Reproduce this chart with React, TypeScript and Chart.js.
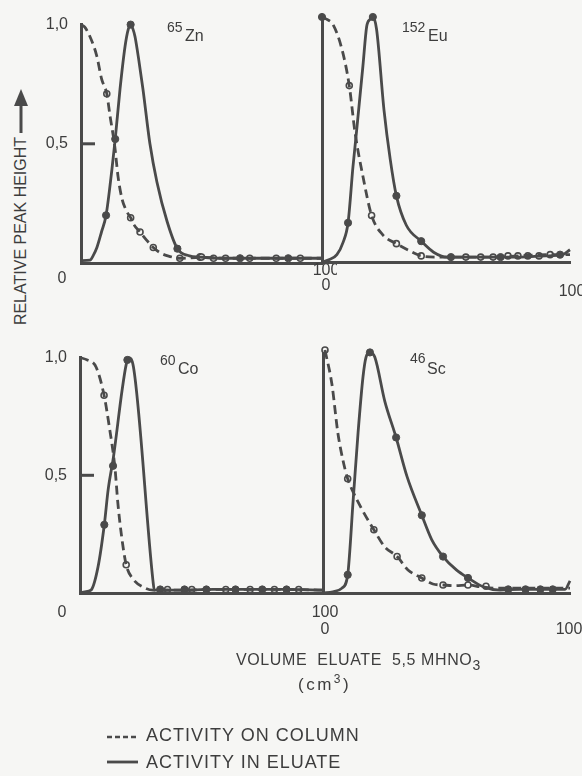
import React, { useEffect, useRef } from 'react';
import { Chart, registerables } from 'chart.js';

Chart.register(...registerables);

type Pt = [number, number];

// ---- 65Zn ----
const znColumn: Pt[] = [[0,1.0],[1.5,0.99],[3.7,0.95],[6.5,0.87],[8.6,0.77],[10.7,0.71],[12,0.62],[14,0.49],[15.4,0.36],[17,0.27],[18.8,0.22],[20.6,0.19],[22,0.16],[24.5,0.13],[27.3,0.095],[30,0.065],[33,0.042],[36,0.03],[41,0.02],[50,0.024],[60,0.02],[70,0.02],[81,0.02],[91,0.02],[100,0.02]];
const znColumnMarks: Pt[] = [[10.7,0.71],[20.6,0.19],[24.5,0.13],[30,0.065],[41,0.02],[50,0.025],[55,0.02],[60,0.02],[70,0.02],[81,0.02],[91,0.02]];
const znEluate: Pt[] = [[0,0.01],[3.7,0.012],[5,0.03],[6.6,0.065],[8.5,0.13],[10.4,0.2],[12.8,0.39],[14.2,0.52],[16.2,0.73],[18.3,0.91],[19.6,0.98],[20.6,1.0],[21.6,0.98],[22.4,0.95],[24,0.85],[25.7,0.73],[28.6,0.5],[31.5,0.34],[35.7,0.175],[40,0.06],[45,0.03],[49.4,0.025],[58,0.02],[66,0.02],[76,0.02],[86,0.02],[100,0.02]];
const znEluateMarks: Pt[] = [[10.4,0.2],[14.2,0.52],[20.6,1.0],[40,0.06],[49.4,0.025],[66,0.02],[86,0.02]];

// ---- 152Eu ----
const euColumn: Pt[] = [[0,1.0],[2,0.99],[4.4,0.97],[8,0.87],[11,0.72],[13.3,0.53],[16.5,0.35],[20,0.19],[24.6,0.11],[30,0.075],[35.5,0.045],[40,0.025],[46,0.02],[58,0.02],[69,0.02],[79,0.025],[92,0.03],[100,0.03]];
const euColumnMarks: Pt[] = [[11,0.72],[20,0.19],[30,0.075],[40,0.025],[58,0.02],[64,0.02],[69,0.02],[75,0.025],[79,0.025],[83,0.025],[87.5,0.025],[92,0.03]];
const euEluate: Pt[] = [[0,0],[3,0.01],[6,0.03],[8.5,0.08],[10.5,0.16],[12.5,0.39],[14,0.54],[16.5,0.8],[18,0.96],[19.3,0.99],[20.5,1.0],[22,0.95],[25,0.62],[27.5,0.42],[30,0.27],[34,0.15],[40,0.085],[45,0.04],[50.4,0.02],[60,0.02],[70,0.02],[80,0.02],[90,0.025],[97,0.03],[100,0.05]];
const euEluateMarks: Pt[] = [[0,1.0],[10.5,0.16],[20.5,1.0],[30,0.27],[40,0.085],[52,0.02],[72,0.02],[96,0.03]];

// ---- 60Co ----
const coColumn: Pt[] = [[0,1.0],[3,0.99],[6.6,0.96],[9.9,0.84],[12,0.71],[14.4,0.53],[15.6,0.38],[17,0.25],[19,0.12],[21.8,0.06],[26,0.025],[30,0.012],[40,0.012],[55,0.015],[70,0.015],[85,0.015],[100,0.012]];
const coColumnMarks: Pt[] = [[9.9,0.84],[19,0.12],[36,0.015],[46,0.015],[60,0.015],[70,0.015],[80,0.015],[90,0.015]];
const coEluate: Pt[] = [[0,0],[2,0.005],[4.5,0.012],[7.4,0.11],[10,0.29],[11.6,0.44],[13.8,0.58],[17.3,0.86],[19,0.97],[20,1.0],[22,0.96],[30,0.055],[30.6,0.012],[40,0.012],[55,0.015],[70,0.015],[85,0.015],[100,0.012]];
const coEluateMarks: Pt[] = [[10,0.29],[13.6,0.54],[19.5,0.99],[33,0.015],[43,0.015],[52,0.015],[64,0.015],[75,0.015],[85,0.015]];

// ---- 46Sc ----
const scColumn: Pt[] = [[0.8,1.0],[3.6,0.86],[6,0.66],[8,0.55],[10,0.47],[12,0.42],[16,0.34],[20.6,0.26],[25,0.19],[30,0.15],[34.4,0.095],[40,0.062],[44.5,0.037],[48.6,0.033],[53.4,0.03],[58.7,0.033],[64,0.025],[70,0.02],[80,0.02],[90,0.02],[100,0.02]];
const scColumnMarks: Pt[] = [[0.8,1.0],[10,0.47],[20.6,0.26],[30,0.15],[40,0.062],[48.6,0.033],[58.7,0.033],[66,0.028]];
const scEluate: Pt[] = [[0,0],[4,0.005],[7.7,0.02],[10,0.075],[12.2,0.38],[14.2,0.66],[16.2,0.89],[17.4,0.97],[19,0.99],[21,0.97],[25,0.79],[29.6,0.64],[34,0.48],[40,0.32],[44,0.22],[48.6,0.15],[54,0.095],[58.7,0.062],[65,0.025],[71.7,0.012],[80,0.015],[90,0.015],[98,0.015],[100,0.05]];
const scEluateMarks: Pt[] = [[10,0.075],[19,0.99],[29.6,0.64],[40,0.32],[48.6,0.15],[58.7,0.062],[75,0.015],[82,0.015],[88,0.015],[93,0.015]];

// ---- labels ----
const massNumbers = ['65', '152', '60', '46'];
const elements = ['Zn', 'Eu', 'Co', 'Sc'];
const yTickValues = [0.5, 1.0];
const yTickLabels = ['0,5', '1,0'];
const xTickValues = [0, 100];
const xTickLabels = ['0', '100'];
const yTitle = 'RELATIVE PEAK HEIGHT';
const xTitle = 'VOLUME  ELUATE  5,5 MHNO';
const legendLabels = ['ACTIVITY ON COLUMN', 'ACTIVITY IN ELUATE'];

const INK = '#4a4a4a';
const TEXT = '#3d3d3d';
const PAPER = '#f6f6f4';
const FONT = '"Liberation Sans", Arial, Helvetica, sans-serif';

const PL = 50, PT = 15, PR = 15, PB = 50;

interface PanelCfg {
  area: { l: number; r: number; t: number; b: number };
  column: Pt[]; columnMarks: Pt[]; eluate: Pt[]; eluateMarks: Pt[];
  showY: boolean;
  xLabelOffsets: [number, number][];
  mass: string; el: string;
  titlePos: { x: number; base: number; elX: number; elBase: number };
}

const panels: PanelCfg[] = [
  { area: { l: 81, r: 322, t: 17, b: 263 }, column: znColumn, columnMarks: znColumnMarks, eluate: znEluate, eluateMarks: znEluateMarks, showY: true,
    xLabelOffsets: [[-19, 16], [4, 8]], mass: massNumbers[0], el: elements[0], titlePos: { x: 167, base: 32, elX: 185, elBase: 42 } },
  { area: { l: 322, r: 570, t: 17, b: 262 }, column: euColumn, columnMarks: euColumnMarks, eluate: euEluate, eluateMarks: euEluateMarks, showY: false,
    xLabelOffsets: [[4, 24], [2, 30]], mass: massNumbers[1], el: elements[1], titlePos: { x: 402, base: 32, elX: 428, elBase: 42 } },
  { area: { l: 80, r: 323, t: 350, b: 593 }, column: coColumn, columnMarks: coColumnMarks, eluate: coEluate, eluateMarks: coEluateMarks, showY: true,
    xLabelOffsets: [[-18, 20], [2, 20]], mass: massNumbers[2], el: elements[2], titlePos: { x: 160, base: 365, elX: 178, elBase: 375 } },
  { area: { l: 323, r: 570, t: 350, b: 593 }, column: scColumn, columnMarks: scColumnMarks, eluate: scEluate, eluateMarks: scEluateMarks, showY: false,
    xLabelOffsets: [[2, 37], [-1, 37]], mass: massNumbers[3], el: elements[3], titlePos: { x: 410, base: 363, elX: 427, elBase: 375 } },
];

const toXY = (arr: Pt[]) => arr.map(([x, y]) => ({ x, y }));

function Panel({ cfg }: { cfg: PanelCfg }) {
  const ref = useRef<HTMLCanvasElement>(null);
  const { l, r, t, b } = cfg.area;
  const w = r - l + PL + PR;
  const h = b - t + PT + PB;
  useEffect(() => {
    const labelPlugin = {
      id: 'panelLabels',
      afterDraw(chart: any) {
        const ctx = chart.ctx;
        const xs = chart.scales.x;
        const ys = chart.scales.y;
        const area = chart.chartArea;
        ctx.save();
        ctx.strokeStyle = INK;
        ctx.lineWidth = 3;
        if (cfg.showY) {
          const py = ys.getPixelForValue(yTickValues[0]);
          ctx.beginPath();
          ctx.moveTo(area.left, py);
          ctx.lineTo(area.left + 14, py);
          ctx.stroke();
        }
        ctx.fillStyle = TEXT;
        ctx.font = `16px ${FONT}`;
        ctx.textAlign = 'center';
        ctx.textBaseline = 'middle';
        xTickValues.forEach((v, i) => {
          const [dx, dy] = cfg.xLabelOffsets[i];
          ctx.fillText(xTickLabels[i], xs.getPixelForValue(v) + dx, area.bottom + dy);
        });
        ctx.restore();
      },
    };
    const line = (data: Pt[], dashed: boolean) => ({
      data: toXY(data),
      borderColor: INK,
      borderWidth: 2.8,
      borderDash: dashed ? [9, 5] : [],
      pointRadius: 0,
      cubicInterpolationMode: 'monotone' as const,
      fill: false,
      clip: false as any,
      borderCapStyle: 'butt' as const,
    });
    const chart = new Chart(ref.current!, {
      type: 'line',
      data: {
        datasets: [
          line(cfg.column, true),
          line(cfg.eluate, false),
          { data: toXY(cfg.columnMarks), showLine: false, pointRadius: 3, pointBackgroundColor: PAPER, pointBorderColor: INK, pointBorderWidth: 1.6, clip: false as any },
          { data: toXY(cfg.eluateMarks), showLine: false, pointRadius: 3.6, pointBackgroundColor: INK, pointBorderColor: INK, pointBorderWidth: 1, clip: false as any },
        ],
      },
      options: {
        animation: false,
        responsive: false,
        devicePixelRatio: 1,
        events: [],
        layout: { padding: { left: 0, top: PT, right: PR, bottom: 0 } },
        plugins: { legend: { display: false }, tooltip: { enabled: false } },
        scales: {
          x: {
            type: 'linear', min: 0, max: 100,
            grid: { display: false, drawTicks: false },
            ticks: { display: false },
            border: { display: true, color: INK, width: 3 },
            afterFit: (s: any) => { s.height = PB; },
          },
          y: {
            type: 'linear', min: 0, max: 1,
            grid: { display: false, drawTicks: false },
            ticks: {
              display: cfg.showY,
              stepSize: 0.5,
              padding: 13,
              color: TEXT,
              font: { family: FONT, size: 16 },
              callback: (v: any) => {
                const i = yTickValues.indexOf(Number(v));
                return i >= 0 ? yTickLabels[i] : '';
              },
            },
            border: { display: true, color: INK, width: 3 },
            afterFit: (s: any) => { s.width = PL; },
          },
        },
      } as any,
      plugins: [labelPlugin],
    });
    return () => chart.destroy();
  }, []);
  return (
    <canvas
      ref={ref}
      width={w}
      height={h}
      style={{ position: 'absolute', left: l - PL, top: t - PT, width: w, height: h }}
    />
  );
}

function T({ x, base, size, children, style }: { x: number; base: number; size: number; children: React.ReactNode; style?: React.CSSProperties }) {
  return (
    <div style={{ position: 'absolute', left: x, top: base - 0.846 * size, fontSize: size, lineHeight: 1, whiteSpace: 'pre', color: TEXT, fontFamily: FONT, ...style }}>
      {children}
    </div>
  );
}

export default function App() {
  return (
    <div style={{ position: 'absolute', left: 0, top: 0, width: 582, height: 776, background: PAPER, overflow: 'hidden', fontFamily: FONT }}>
      {panels.map((p, i) => <Panel key={i} cfg={p} />)}
      {panels.map((p, i) => (
        <React.Fragment key={'t' + i}>
          <T x={p.titlePos.x} base={p.titlePos.base} size={14}>{p.mass}</T>
          <T x={p.titlePos.elX} base={p.titlePos.elBase} size={16}>{p.el}</T>
        </React.Fragment>
      ))}
      {/* y title */}
      <div style={{ position: 'absolute', left: 21, top: 231, transform: 'translate(-50%, -50%) rotate(-90deg)', fontSize: 16, lineHeight: 1, whiteSpace: 'nowrap', color: TEXT, fontFamily: FONT }}>
        {yTitle}
      </div>
      <svg width={582} height={776} style={{ position: 'absolute', left: 0, top: 0 }}>
        <line x1={21} y1={133} x2={21} y2={104} stroke={INK} strokeWidth={3} />
        <polygon points="21,89 14,106 28,106" fill={INK} />
        <line x1={107} y1={737} x2={138} y2={737} stroke={INK} strokeWidth={2.5} strokeDasharray="5 3" />
        <line x1={107} y1={762} x2={138} y2={762} stroke={INK} strokeWidth={2.8} />
      </svg>
      {/* x title */}
      <T x={236} base={666} size={16} style={{ letterSpacing: 0.6 }}>
        {xTitle}<span style={{ fontSize: 14, position: 'relative', top: 5 }}>3</span>
      </T>
      <T x={298} base={690} size={17} style={{ letterSpacing: 2.5 }}>
        (cm<span style={{ fontSize: 12, position: 'relative', top: -7 }}>3</span>)
      </T>
      {/* legend */}
      <T x={146} base={741} size={18} style={{ letterSpacing: 1 }}>{legendLabels[0]}</T>
      <T x={146} base={768} size={18} style={{ letterSpacing: 1 }}>{legendLabels[1]}</T>
    </div>
  );
}
